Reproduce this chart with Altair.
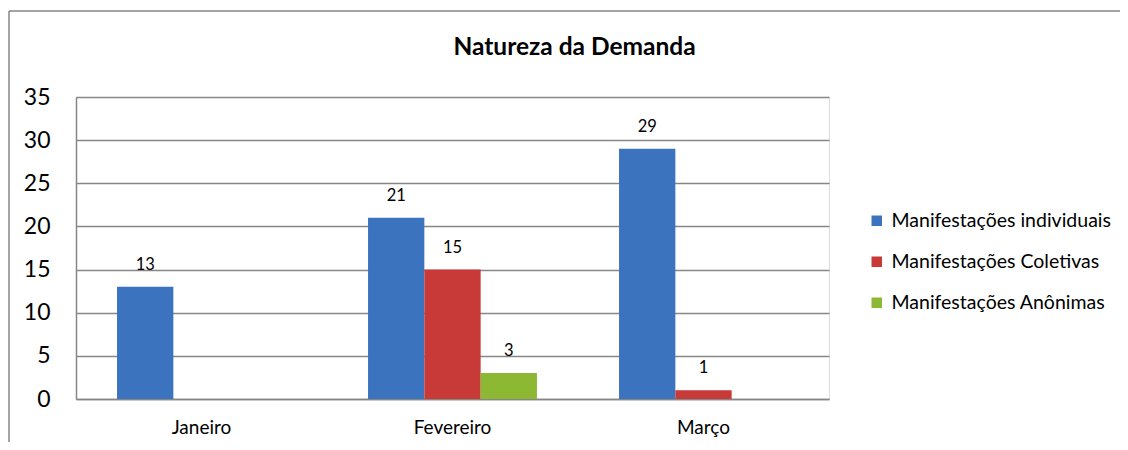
import altair as alt
import pandas as pd

months = ["Janeiro", "Fevereiro", "Março"]
series = ["Manifestações individuais", "Manifestações Coletivas", "Manifestações Anônimas"]
individuais = [13, 21, 29]
coletivas = [0, 15, 1]
anonimas = [0, 3, 0]
colors = ["#3B73BE", "#C83A37", "#8DB834"]

rows = []
for i, m in enumerate(months):
    for s, vals in zip(series, [individuais, coletivas, anonimas]):
        rows.append({"mes": m, "serie": s, "valor": vals[i]})
df = pd.DataFrame(rows)

FONT = "Lato"
W, H = 753, 302
PAD = {"left": 68, "top": 89, "right": 291, "bottom": 43}

base = alt.Chart(df).encode(
    x=alt.X("mes:N", sort=months,
            scale=alt.Scale(paddingInner=0.327, paddingOuter=0.1635),
            axis=alt.Axis(title=None, labelAngle=0, ticks=False, labelPadding=19,
                          labelFontSize=19, labelFont=FONT, labelColor="#000000",
                          domainColor="#868686", domainWidth=1.5, grid=False)),
    xOffset=alt.XOffset("serie:N", sort=series, scale=alt.Scale(paddingInner=0, paddingOuter=0)),
)

bars = base.mark_bar().encode(
    y=alt.Y("valor:Q", scale=alt.Scale(domain=[0, 35]),
            axis=alt.Axis(title=None, values=[0, 5, 10, 15, 20, 25, 30, 35], ticks=False,
                          labelPadding=26, labelFontSize=23, labelFont=FONT, labelColor="#000000",
                          domainColor="#868686", domainWidth=1.5,
                          gridColor="#868686", gridWidth=1.4)),
    color=alt.Color("serie:N", sort=series,
                    scale=alt.Scale(domain=series, range=colors),
                    legend=alt.Legend(title=None, orient="none", legendX=791, legendY=114,
                                      padding=0, symbolType="square", symbolSize=110,
                                      symbolStrokeWidth=0, labelOffset=5, rowPadding=20,
                                      labelLimit=0,
                                      labelFontSize=19.5, labelFont=FONT, labelColor="#000000")),
)

labels = base.mark_text(baseline="alphabetic", dy=-17, fontSize=16.5, font=FONT, color="#000000").encode(
    y=alt.Y("valor:Q"),
    text=alt.Text("valor:Q"),
).transform_filter("datum.valor > 0")

# outer chart frame (top and left edges visible in the picture)
frame_src = alt.Chart(pd.DataFrame({"k": [0]}))
frame_top = frame_src.mark_rule(stroke="#868686", strokeWidth=1.5, clip=False).encode(
    x=alt.value(-67), x2=alt.value(W + PAD["right"] + 5), y=alt.value(-86)
)
frame_left = frame_src.mark_rule(stroke="#868686", strokeWidth=1.5, clip=False).encode(
    x=alt.value(-67), y=alt.value(-86), y2=alt.value(H + PAD["bottom"] + 5)
)

chart = alt.layer(frame_top, frame_left, bars, labels).properties(
    width=W, height=H,
    title=alt.TitleParams("Natureza da Demanda", fontSize=24.5, font=FONT, fontWeight="bold",
                          color="#000000", anchor="middle", dx=122, offset=-69,
                          baseline="alphabetic"),
    autosize=alt.AutoSizeParams(type="none"),
    padding=PAD,
).configure_view(stroke=None).configure(background="#ffffff")

chart.save("out.html", embed_options={"renderer": "svg", "actions": False})
